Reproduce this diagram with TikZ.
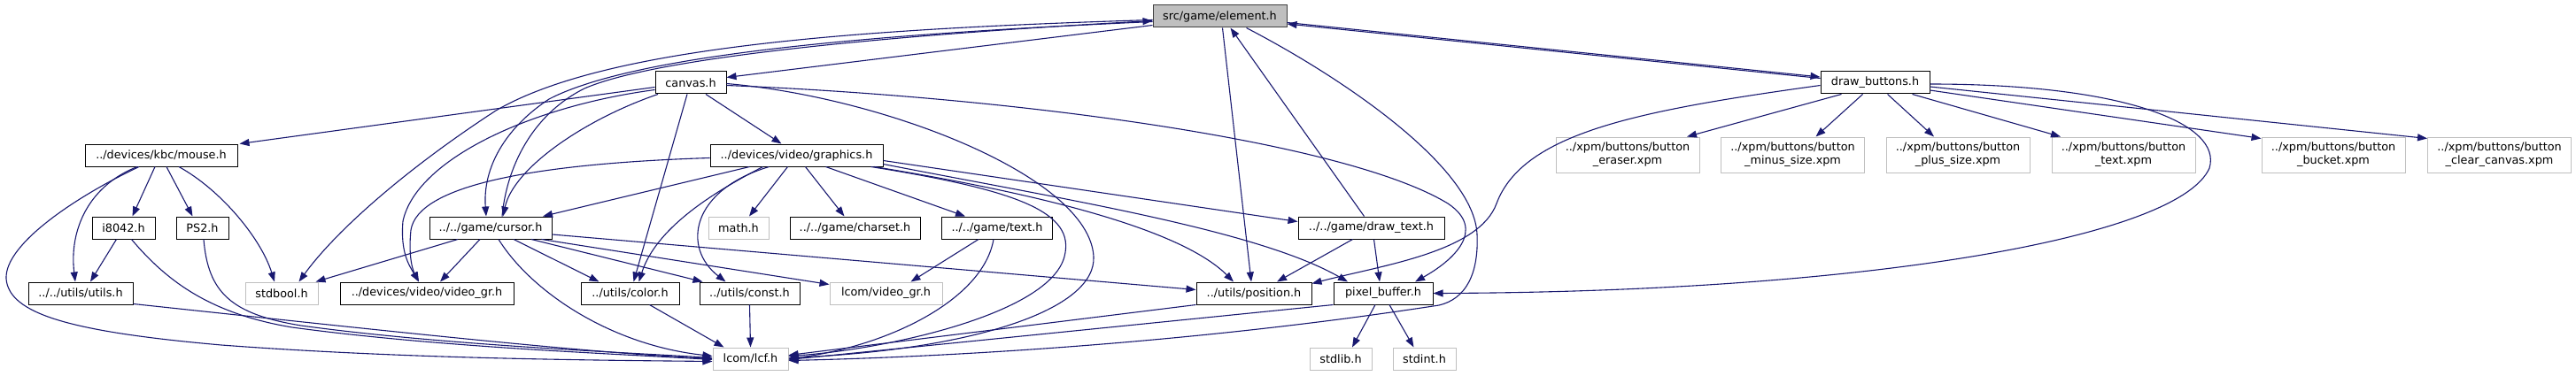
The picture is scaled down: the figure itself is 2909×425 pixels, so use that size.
\documentclass[tikz,border=0pt]{standalone}
\usepackage{fontspec}
\setmainfont{DejaVu Sans}
\usetikzlibrary{arrows.meta}
\definecolor{edgeblue}{HTML}{191970}
\definecolor{extgray}{HTML}{BFBFBF}
\definecolor{rootfill}{HTML}{BFBFBF}
\newcommand\dxfont{\fontsize{12.8pt}{15pt}\selectfont}
\begin{document}
\begin{tikzpicture}[x=1pt,y=-1pt,
 box/.style={draw=black, line width=1pt, fill=white, inner sep=0pt, minimum height=25pt, font=\dxfont, text=black},
 ext/.style={box, draw=extgray},
 xpm/.style={ext, minimum height=40pt, align=center, minimum width=162pt},
 root/.style={box, fill=rootfill, draw=black!75},
 e/.style={draw=edgeblue, line width=1.1pt, -{Triangle[length=11pt,width=8pt]}}]
\fill[white] (0,0) rectangle (2909,425);
\useasboundingbox (0,0) rectangle (2909,425);
% row 1
\node[root, minimum width=151pt] (element) at (1377.5,18.5) {src/game/element.h};
% row 2
\node[box, minimum width=80pt] (canvas) at (780,93.5) {canvas.h};
\node[box, minimum width=123pt] (dbtn) at (2117.5,93.5) {draw\_buttons.h};
% row 3
\node[box, minimum width=172pt] (mouse) at (182,175.5) {../devices/kbc/mouse.h};
\node[box, minimum width=195pt] (graphics) at (899.5,175.5) {../devices/video/graphics.h};
\node[xpm] (eraser) at (1838,175) {../xpm/buttons/button\\\_eraser.xpm};
\node[xpm] (minus) at (2024.5,175) {../xpm/buttons/button\\\_minus\_size.xpm};
\node[xpm] (plus) at (2211,175) {../xpm/buttons/button\\\_plus\_size.xpm};
\node[xpm] (textxpm) at (2398,175) {../xpm/buttons/button\\\_text.xpm};
\node[xpm] (bucket) at (2635,175) {../xpm/buttons/button\\\_bucket.xpm};
\node[xpm] (clear) at (2822.5,175) {../xpm/buttons/button\\\_clear\_canvas.xpm};
% row 4
\node[box, minimum width=71pt] (i8042) at (139.5,257.5) {i8042.h};
\node[box, minimum width=59pt] (ps2) at (228.5,257.5) {PS2.h};
\node[box, minimum width=138pt] (cursor) at (554,257.5) {../../game/cursor.h};
\node[ext, minimum width=68pt] (math) at (834,257.5) {math.h};
\node[box, minimum width=147pt] (charset) at (965.5,257.5) {../../game/charset.h};
\node[box, minimum width=125pt] (textH) at (1126,257.5) {../../game/text.h};
\node[box, minimum width=165pt] (drawtext) at (1548.5,257.5) {../../game/draw\_text.h};
% row 5
\node[box, minimum width=118pt] (utils) at (91,331.5) {../../utils/utils.h};
\node[ext, minimum width=82pt] (stdbool) at (318,331.5) {stdbool.h};
\node[box, minimum width=196pt] (videogr) at (482,331.5) {../devices/video/video\_gr.h};
\node[box, minimum width=111pt] (color) at (711.5,331.5) {../utils/color.h};
\node[box, minimum width=113pt] (const) at (846.5,331.5) {../utils/const.h};
\node[ext, minimum width=127pt] (lvideogr) at (1000.5,331.5) {lcom/video\_gr.h};
\node[box, minimum width=130pt] (position) at (1416,331.5) {../utils/position.h};
\node[box, minimum width=112pt] (pixbuf) at (1562,331.5) {pixel\_buffer.h};
% row 6
\node[ext, minimum width=85pt] (lcf) at (847.5,405.5) {lcom/lcf.h};
\node[ext, minimum width=70pt] (stdlib) at (1514,405.5) {stdlib.h};
\node[ext, minimum width=71pt] (stdint) at (1608.5,405.5) {stdint.h};

% ---- edges from element
\draw[e] ([yshift=-10pt]element.west) -- ([yshift=6pt]canvas.east);
\draw[e] ([yshift=-7pt]element.east) -- ([yshift=6.5pt]dbtn.west);
\draw[e] ([yshift=5pt]dbtn.west) -- ([yshift=-8.5pt]element.east);
\draw[e] ([yshift=-4pt]element.west) .. controls (950,33) and (680,55) .. (560,125) .. controls (460,190) and (380,260) .. ([xshift=-22pt]stdbool.north east);
\draw[e] ([yshift=-6pt]element.west) .. controls (1000,38) and (720,60) .. (620,112) .. controls (570,145) and (545,190) .. ([xshift=-5pt]cursor.north);
\draw[e] ([xshift=13pt]cursor.north) .. controls (572,190) and (600,130) .. (660,100) .. controls (740,65) and (1000,40) .. ([yshift=-5pt]element.west);
\draw[e] ([xshift=3pt]element.south) -- ([xshift=-3pt]position.north);
\draw[e] ([xshift=-8pt]drawtext.north) -- ([xshift=12pt]element.south);
\draw[e] ([xshift=30pt]element.south) .. controls (1520,90) and (1665,190) .. (1668,265) .. controls (1670,310) and (1655,338) .. (1625,345) .. controls (1300,395) and (1000,405) .. ([yshift=-2pt]lcf.east);
% ---- canvas
\draw[e] ([yshift=-5pt]canvas.west) -- ([xshift=2pt]mouse.north east);
\draw[e] ([yshift=-8pt]canvas.west) .. controls (600,120) and (470,180) .. (455,250) .. controls (452,285) and (462,300) .. ([xshift=-9pt]videogr.north);
\draw[e] ([xshift=-37pt]canvas.south) .. controls (660,135) and (580,190) .. ([xshift=14pt]cursor.north);
\draw[e] ([xshift=-4pt]canvas.south) -- ([xshift=4pt]color.north);
\draw[e] ([xshift=17pt]canvas.south) -- ([xshift=-17pt]graphics.north);
\draw[e] ([yshift=-1pt]canvas.east) .. controls (1000,110) and (1230,200) .. (1235,290) .. controls (1238,350) and (1100,395) .. ([yshift=1pt]lcf.east);
\draw[e] ([yshift=-3pt]canvas.east) .. controls (1150,110) and (1520,160) .. (1635,230) .. controls (1680,260) and (1640,295) .. ([xshift=36pt]pixbuf.north);
% ---- graphics
\draw[e] ([yshift=-3pt]graphics.west) .. controls (600,185) and (472,210) .. (464,260) .. controls (461,290) and (466,305) .. ([xshift=-9pt]videogr.north);
\draw[e] ([xshift=-53pt]graphics.south) -- ([xshift=59pt]cursor.north);
\draw[e] ([xshift=-38pt]graphics.south) .. controls (800,220) and (740,260) .. ([xshift=10pt]color.north);
\draw[e] ([xshift=-31pt]graphics.south) .. controls (780,215) and (770,280) .. ([xshift=-27pt]const.north);
\draw[e] ([xshift=-10pt]graphics.south) -- ([xshift=12pt]math.north);
\draw[e] ([xshift=10pt]graphics.south) -- ([xshift=-12pt]charset.north);
\draw[e] ([xshift=33pt]graphics.south) -- ([xshift=-36pt]textH.north);
\draw[e] ([yshift=-6pt]graphics.east) -- ([yshift=7pt]drawtext.west);
\draw[e] ([xshift=88pt]graphics.south) .. controls (1150,215) and (1330,255) .. ([xshift=-23pt]position.north);
\draw[e] ([yshift=-10pt]graphics.east) .. controls (1200,225) and (1420,260) .. ([xshift=-40pt]pixbuf.north);
\draw[e] ([xshift=84pt]graphics.south) .. controls (1150,215) and (1215,240) .. (1202,290) .. controls (1185,355) and (1000,395) .. ([yshift=3pt]lcf.east);
% ---- text.h
\draw[e] ([xshift=-21pt]textH.south) -- ([xshift=28pt]lvideogr.north);
\draw[e] ([xshift=-4pt]textH.south) .. controls (1110,340) and (1000,392) .. (lcf.east);
% ---- cursor
\draw[e] ([xshift=-37pt]cursor.south) -- ([xshift=-3pt]stdbool.north east);
\draw[e] ([xshift=-12pt]cursor.south) -- ([xshift=15pt]videogr.north);
\draw[e] ([xshift=26pt]cursor.south) -- ([xshift=-35pt]color.north);
\draw[e] ([xshift=46pt]cursor.south) -- ([xshift=-53pt]const.north);
\draw[e] ([xshift=-12pt]cursor.south east) -- ([yshift=-3pt]lvideogr.north west);
\draw[e] ([yshift=-7.5pt]cursor.east) -- ([yshift=4pt]position.west);
\draw[e] ([xshift=9pt]cursor.south) .. controls (600,330) and (690,390) .. ([yshift=3pt]lcf.west);
% ---- leaves to lcf etc.
\draw[e] ([xshift=22pt]color.south) -- ([xshift=-30pt]lcf.north);
\draw[e] (const.south) -- (lcf.north);
\draw[e] (position.south west) -- ([yshift=4pt]lcf.east);
\draw[e] (pixbuf.south west) -- ([yshift=-1pt]lcf.east);
\draw[e] ([xshift=-9pt]pixbuf.south) -- ([xshift=13pt]stdlib.north);
\draw[e] ([xshift=7pt]pixbuf.south) -- ([xshift=-12pt]stdint.north);
\draw[e] ([xshift=-21pt]drawtext.south) -- ([xshift=26pt]position.north);
\draw[e] ([xshift=3pt]drawtext.south) -- ([xshift=-4pt]pixbuf.north);
% ---- draw_buttons
\draw[e] ([yshift=-3pt]dbtn.west) .. controls (1850,125) and (1720,150) .. (1690,230) .. controls (1670,285) and (1560,300) .. ([yshift=-2pt]position.north east);
\draw[e] ([yshift=-1.5pt]dbtn.east) .. controls (2400,95) and (2510,140) .. (2495,190) .. controls (2460,270) and (2100,330) .. (pixbuf.east);
\draw[e] ([xshift=-38pt]dbtn.south) -- ([xshift=67pt]eraser.north);
\draw[e] ([xshift=-14pt]dbtn.south) -- ([xshift=26pt]minus.north);
\draw[e] ([xshift=14pt]dbtn.south) -- ([xshift=-27pt]plus.north);
\draw[e] ([xshift=42pt]dbtn.south) -- ([xshift=-71pt]textxpm.north);
\draw[e] ([yshift=-8.5pt]dbtn.east) -- ([yshift=-2pt]bucket.north west);
\draw[e] ([yshift=-4.5pt]dbtn.east) -- ([yshift=-2pt]clear.north west);
% ---- mouse
\draw[e] ([xshift=-7pt]mouse.south) -- ([xshift=10pt]i8042.north);
\draw[e] ([xshift=6pt]mouse.south) -- ([xshift=-11pt]ps2.north);
\draw[e] ([xshift=20pt]mouse.south) .. controls (250,215) and (295,270) .. ([xshift=-8pt]stdbool.north);
\draw[e] ([xshift=-27pt]mouse.south) .. controls (100,210) and (78,260) .. ([xshift=-6pt]utils.north);
\draw[e] ([xshift=-25pt]mouse.south) .. controls (90,220) and (5,275) .. (7,315) .. controls (10,355) and (80,375) .. (250,390) .. controls (450,405) and (650,407) .. ([yshift=-3pt]lcf.west);
\draw[e] ([xshift=-8pt]i8042.south) -- ([xshift=11pt]utils.north);
\draw[e] ([xshift=9pt]i8042.south) .. controls (190,320) and (240,355) .. (330,370) .. controls (500,393) and (700,400) .. ([yshift=-1pt]lcf.west);
\draw[e] ([xshift=1.5pt]ps2.south) .. controls (235,330) and (260,355) .. (340,368) .. controls (500,390) and (700,398) .. ([yshift=1pt]lcf.west);
\draw[e] ([yshift=1pt]utils.south east) .. controls (400,370) and (650,398) .. (lcf.west);
\end{tikzpicture}
\end{document}
